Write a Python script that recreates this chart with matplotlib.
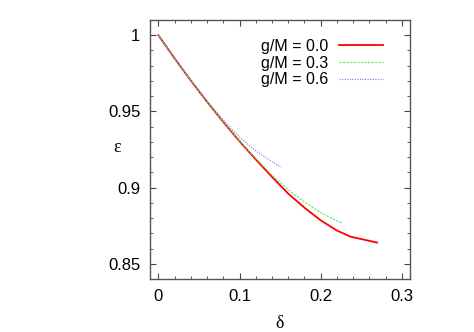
import matplotlib
matplotlib.use('Agg')
import matplotlib.pyplot as plt
from matplotlib.ticker import MultipleLocator

# g/M = 0.0
delta_0 = [0, 0.02, 0.04, 0.06, 0.08, 0.10, 0.12, 0.14, 0.16, 0.18, 0.20, 0.22, 0.2366, 0.25, 0.2696]
eps_0 = [1.0, 0.9848, 0.9702, 0.9563, 0.9430, 0.9304, 0.9185, 0.9070, 0.8960, 0.8868, 0.8785, 0.8718, 0.8678, 0.8662, 0.8639]
# g/M = 0.3
delta_3 = [0, 0.02, 0.04, 0.06, 0.08, 0.10, 0.12, 0.14, 0.16, 0.18, 0.20, 0.2264]
eps_3 = [1.0, 0.9848, 0.9702, 0.9564, 0.9432, 0.9308, 0.9192, 0.9082, 0.8985, 0.8905, 0.8835, 0.8766]
# g/M = 0.6
delta_6 = [0, 0.02, 0.04, 0.06, 0.08, 0.10, 0.12, 0.14, 0.151]
eps_6 = [1.0, 0.9849, 0.9704, 0.9568, 0.9443, 0.9330, 0.9240, 0.9170, 0.9133]

labels = ['g/M = 0.0', 'g/M = 0.3', 'g/M = 0.6']

plt.rcParams['font.family'] = ['Liberation Sans', 'DejaVu Sans']

fig = plt.figure(figsize=(4.74, 3.32), dpi=100)
ax = fig.add_axes([150/474, 1-279/332, 260/474, 259/332])

ax.plot(delta_0, eps_0, color='#ff0000', lw=1.3, label=labels[0])
ax.plot(delta_3, eps_3, color='#55ee55', lw=0.8, ls=(0, (2, 1.2)), label=labels[1])
ax.plot(delta_6, eps_6, color='#6677ff', lw=0.8, ls=(0, (1, 1.3)), label=labels[2])

ax.set_xlim(-0.0103, 0.31)
ax.set_ylim(0.84, 1.01)
ax.xaxis.set_minor_locator(MultipleLocator(0.02))
ax.yaxis.set_minor_locator(MultipleLocator(0.01))
ax.set_xticks([0, 0.1, 0.2, 0.3])
ax.set_xticklabels(['0', '0.1', '0.2', '0.3'])
ax.set_yticks([0.85, 0.9, 0.95, 1.0])
ax.set_yticklabels(['0.85', '0.9', '0.95', '1'])

ax.tick_params(which='both', direction='in', top=True, right=True, labelsize=12, color='#444444')
ax.tick_params(which='major', length=4, width=0.8, pad=7)
ax.tick_params(which='minor', length=2, width=0.6)
for s in ax.spines.values():
    s.set_linewidth(1.0)
    s.set_color('#555555')

ax.set_xlabel('δ', family=['Liberation Serif', 'DejaVu Serif'], fontsize=13, labelpad=8)
fig.text(117/474, 1-148/332, 'ε', family=['Liberation Serif', 'DejaVu Serif'], fontsize=13,
         ha='center', va='center')

ax.legend(loc='upper right', bbox_to_anchor=(0.939, 0.97), frameon=False, markerfirst=False,
          fontsize=11.5, handlelength=2.75, handletextpad=0.7, labelspacing=0.1, borderpad=0.2)

fig.savefig('out.png', dpi=100)
